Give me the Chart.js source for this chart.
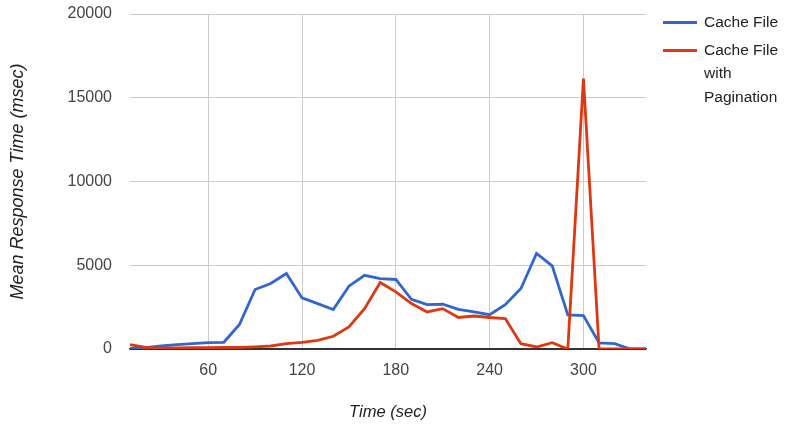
<!DOCTYPE html>
<html>
<head>
<meta charset="utf-8">
<script src="https://cdn.jsdelivr.net/npm/chart.js@4"></script>
<style>
  body { margin: 0; background: #fff; }
  #wrap { position: relative; width: 788px; height: 429px; }
  #legend { position: absolute; left: 663px; top: 10px; font-family: "Liberation Sans", Arial, sans-serif; font-size: 15.5px; color: #222; }
  .item { position: relative; padding-left: 41px; width: 84px; line-height: 23.5px; margin-bottom: 4px; }
  .item .swatch { position: absolute; left: 0; top: 11px; width: 34px; height: 3px; }
</style>
</head>
<body>
<div id="wrap">
  <canvas id="lineChart" width="788" height="429"></canvas>
  <div id="legend"></div>
</div>
<script>
const times = [10, 20, 30, 40, 50, 60, 70, 80, 90, 100, 110, 120, 130, 140, 150, 160, 170,
  180, 190, 200, 210, 220, 230, 240, 250, 260, 270, 280, 290, 300, 310, 320, 330, 340];
const cacheFile = [40, 80, 180, 260, 320, 380, 400, 1460, 3550, 3910, 4510, 3050, 2710, 2350, 3750, 4400, 4200,
  4150, 2970, 2650, 2670, 2370, 2210, 2050, 2650, 3610, 5700, 4960, 2030, 2000, 360, 320, 0, 0];
const cacheFilePagination = [260, 90, 50, 70, 80, 80, 90, 100, 130, 180, 320, 400, 520, 760, 1320, 2410, 3970,
  3410, 2710, 2210, 2410, 1880, 1970, 1880, 1820, 320, 120, 380, 0, 16150, 0, 0, 0, 0];
const xTicks = [60, 120, 180, 240, 300];
const yTicks = [0, 5000, 10000, 15000, 20000];
const seriesNames = ['Cache File', 'Cache File with Pagination'];
const seriesColors = ['#3366cc', '#dc3912'];

function toPoints(values) {
  return times.map((t, i) => ({ x: t, y: values[i] }));
}

const ctx = document.getElementById('lineChart');

const chart = new Chart(ctx, {
  type: 'line',
  data: {
    datasets: [{
      label: seriesNames[0],
      data: toPoints(cacheFile),
      borderColor: seriesColors[0],
      borderWidth: 2.8,
      pointRadius: 0,
      tension: 0,
      order: 1
    }, {
      label: seriesNames[1],
      data: toPoints(cacheFilePagination),
      borderColor: seriesColors[1],
      borderWidth: 2.8,
      pointRadius: 0,
      tension: 0,
      order: 0
    }]
  },
  options: {
    responsive: false,
    animation: false,
    layout: { padding: { left: 0, right: 142, top: 14, bottom: 0 } },
    plugins: {
      legend: { display: false },
      tooltip: { enabled: false }
    },
    scales: {
      x: {
        type: 'linear',
        min: 10,
        max: 340,
        afterBuildTicks: (scale) => { scale.ticks = xTicks.map(v => ({ value: v })); },
        afterFit: (scale) => { scale.height = 80; },
        grid: { color: '#cccccc', drawTicks: false },
        border: { color: '#333333', width: 1.5 },
        ticks: {
          padding: 12,
          color: '#444',
          font: { family: 'Liberation Sans', size: 16 },
          maxRotation: 0
        },
        title: {
          display: true,
          text: 'Time (sec)',
          color: '#222',
          font: { family: 'Liberation Sans', size: 16.5, style: 'italic' },
          padding: { top: 0, bottom: 7 }
        }
      },
      y: {
        min: 0,
        max: 20000,
        afterBuildTicks: (scale) => { scale.ticks = yTicks.map(v => ({ value: v })); },
        afterFit: (scale) => {
          scale.width = 130;
          scale.paddingTop = 0;
          scale.paddingBottom = 0;
        },
        grid: {
          color: (c) => c.tick && c.tick.value === 0 ? '#333333' : '#cccccc',
          drawTicks: false
        },
        border: { display: false },
        ticks: {
          padding: 18,
          color: '#444',
          font: { family: 'Liberation Sans', size: 16 },
          callback: (v) => String(v)
        },
        title: {
          display: true,
          text: 'Mean Response Time (msec)',
          color: '#222',
          font: { family: 'Liberation Sans', size: 18, style: 'italic' },
          padding: { top: 7, bottom: 0 }
        }
      }
    }
  }
});

// legend on the right, built from the dataset labels
const legend = document.getElementById('legend');
chart.data.datasets.forEach((ds) => {
  const item = document.createElement('div');
  item.className = 'item';
  const sw = document.createElement('span');
  sw.className = 'swatch';
  sw.style.background = ds.borderColor;
  item.appendChild(sw);
  item.appendChild(document.createTextNode(ds.label));
  legend.appendChild(item);
});
</script>
</body>
</html>
